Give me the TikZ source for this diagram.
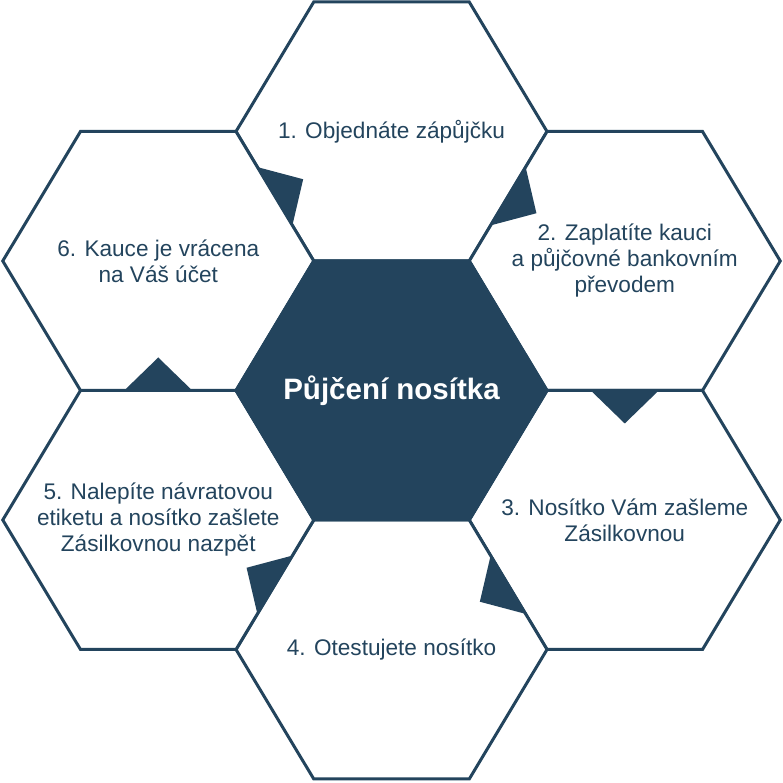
\documentclass[tikz,border=0pt]{standalone}
\usepackage{fontspec}
\setmainfont{Liberation Sans}
\usetikzlibrary{calc}
\definecolor{navy}{HTML}{23445D}
\def\hR{155.5}
\def\ha{77.75}
\def\hh{129.5}
\newcommand{\hexcoords}[3]{%
  \coordinate (#1) at (#2,#3);
  \coordinate (#1-E) at ($(#1)+(\hR,0)$);
  \coordinate (#1-NE) at ($(#1)+(\ha,\hh)$);
  \coordinate (#1-NW) at ($(#1)+(-\ha,\hh)$);
  \coordinate (#1-W) at ($(#1)+(-\hR,0)$);
  \coordinate (#1-SW) at ($(#1)+(-\ha,-\hh)$);
  \coordinate (#1-SE) at ($(#1)+(\ha,-\hh)$);
}
\newcommand{\hexpath}[1]{(#1-E) -- (#1-NE) -- (#1-NW) -- (#1-W) -- (#1-SW) -- (#1-SE) -- cycle}
\newcommand{\flowtri}[2]{%
  \fill[flowtri] ($(#1)!0.5!(#2)!34pt!(#1)$) -- ($(#1)!0.5!(#2)!34pt!(#2)$)
    -- ($($(#1)!0.5!(#2)$)!33pt!90:(#2)$) -- cycle;
}
\begin{document}
\begin{tikzpicture}[x=1pt,y=1pt,
  hexline/.style={draw=navy,line width=3pt,fill=white},
  hexcore/.style={draw=navy,line width=3pt,fill=navy},
  flowtri/.style={fill=navy},
  steplbl/.style={text=navy,align=center,font=\fontsize{22.6}{26}\selectfont,inner sep=0pt},
  corelbl/.style={text=white,align=center,font=\bfseries\fontsize{29.5}{34}\selectfont,inner sep=0pt}]
\useasboundingbox (0,0) rectangle (783,783);
\hexcoords{c0}{391.5}{392.5}
\hexcoords{c1}{391.5}{651.5}
\hexcoords{c2}{624.75}{522}
\hexcoords{c3}{624.75}{263}
\hexcoords{c4}{391.5}{133.5}
\hexcoords{c5}{158.25}{263}
\hexcoords{c6}{158.25}{522}
\draw[hexline] \hexpath{c1};
\draw[hexline] \hexpath{c2};
\draw[hexline] \hexpath{c3};
\draw[hexline] \hexpath{c4};
\draw[hexline] \hexpath{c5};
\draw[hexline] \hexpath{c6};
\draw[hexcore] \hexpath{c0};
\flowtri{c6-NE}{c6-E}
\flowtri{c1-E}{c1-SE}
\flowtri{c2-SE}{c2-SW}
\flowtri{c3-SW}{c3-W}
\flowtri{c4-W}{c4-NW}
\flowtri{c5-NW}{c5-NE}
\node[corelbl] (t0) at (c0) {Půjčení nosítka};
\node[steplbl] (t1) at (c1) {1. Objednáte zápůjčku};
\node[steplbl] (t2) at (c2) {2. Zaplatíte kauci\\a půjčovné bankovním\\převodem};
\node[steplbl] (t3) at (c3) {3. Nosítko Vám zašleme\\Zásilkovnou};
\node[steplbl] (t4) at (c4) {4. Otestujete nosítko};
\node[steplbl] (t5) at (c5) {5. Nalepíte návratovou\\etiketu a nosítko zašlete\\Zásilkovnou nazpět};
\node[steplbl] (t6) at (c6) {6. Kauce je vrácena\\na Váš účet};
\end{tikzpicture}
\end{document}
